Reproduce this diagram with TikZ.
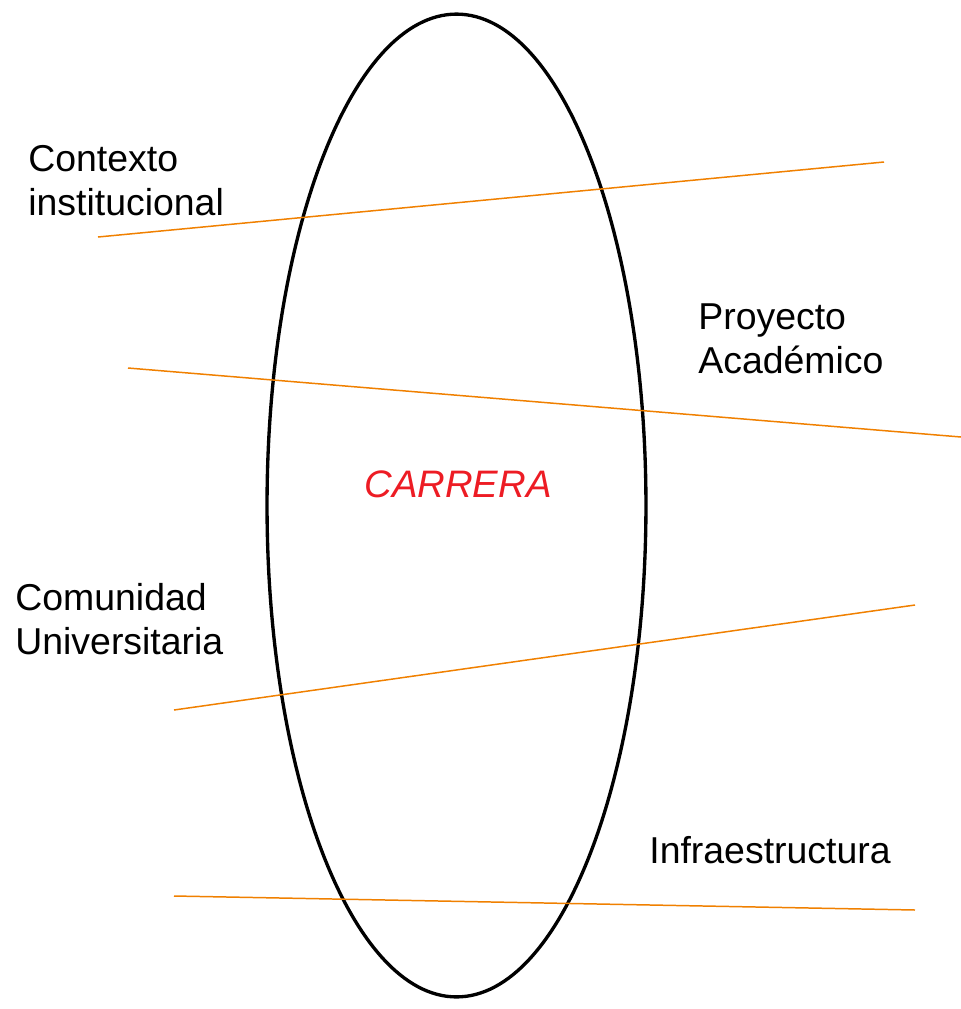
\documentclass[tikz,border=0pt]{standalone}
\usepackage{fontspec}
\setmainfont{Liberation Sans}
\definecolor{cutorange}{RGB}{240,128,0}
\definecolor{careerred}{RGB}{237,28,36}

\begin{document}
\begin{tikzpicture}[x=0.02cm, y=-0.02cm,
  areatext/.style={anchor=base west, align=left, inner sep=0pt, font=\fontsize{21.3}{24.8}\selectfont},
  cutline/.style={draw=cutorange, line width=0.85pt}]
  \useasboundingbox (0,0) rectangle (961,1009);
  \coordinate (C) at (456.5,505.5);
  \draw[line width=1.9pt] (C) ellipse [x radius=3.79cm, y radius=9.83cm];
  % lines crossing the career
  \coordinate (ctxA) at (98,237);
  \coordinate (ctxB) at (884,162);
  \coordinate (proA) at (128,368);
  \coordinate (proB) at (961,437);
  \coordinate (comA) at (174,710);
  \coordinate (comB) at (915,605);
  \coordinate (infA) at (174,896);
  \coordinate (infB) at (915,910);
  \draw[cutline] (ctxA) -- (ctxB);
  \draw[cutline] (proA) -- (proB);
  \draw[cutline] (comA) -- (comB);
  \draw[cutline] (infA) -- (infB);
  % labels (base = last line)
  \node[areatext] (ctx) at (28,215) {Contexto\\institucional};
  \node[areatext] (pro) at (698,373) {Proyecto\\Académico};
  \node[areatext] (com) at (15,654) {Comunidad\\Universitaria};
  \node[areatext] (inf) at (649,863) {Infraestructura};
  \node[anchor=base, inner sep=0pt, text=careerred, font=\fontsize{21.8}{24.8}\selectfont\itshape] (career) at (458,497) {CARRERA};
\end{tikzpicture}
\end{document}
